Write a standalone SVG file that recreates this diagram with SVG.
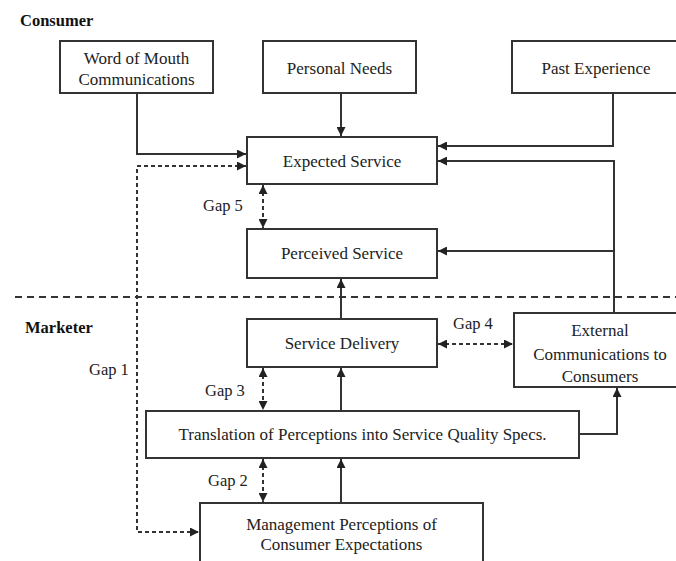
<svg xmlns="http://www.w3.org/2000/svg" width="676" height="561" viewBox="0 0 676 561">
<defs>
<marker id="ah" viewBox="0 0 10 10" refX="10" refY="5" markerWidth="9" markerHeight="9" markerUnits="userSpaceOnUse" orient="auto-start-reverse">
<path d="M0,0 L10,5 L0,10 z" fill="#222"/>
</marker>
<style>
.box{fill:#fff;stroke:#333;stroke-width:2}
.t{font-family:"Liberation Serif","Times New Roman",serif;font-size:17px;fill:#222;text-anchor:middle}
.h{font-family:"Liberation Serif","Times New Roman",serif;font-size:16.5px;font-weight:bold;fill:#111}
.g{font-family:"Liberation Serif","Times New Roman",serif;font-size:16.5px;fill:#222}
.c{fill:none;stroke:#333;stroke-width:2}
.d{fill:none;stroke:#333;stroke-width:2;stroke-dasharray:4,3}
</style>
</defs>
<rect width="676" height="561" fill="#fff"/>
<text class="h" x="20" y="26">Consumer</text>
<text class="h" x="25" y="333">Marketer</text>
<line x1="15" y1="297" x2="676" y2="297" stroke="#333" stroke-width="2" stroke-dasharray="7,5"/>
<g id="connectors">
<path class="c" d="M137,93 V154 H246" marker-end="url(#ah)"/>
<path class="d" d="M246,166 H137 V532 H199" marker-start="url(#ah)" marker-end="url(#ah)"/>
<path class="c" d="M341,93 V136" marker-end="url(#ah)"/>
<path class="c" d="M613,93 V146 H438" marker-end="url(#ah)"/>
<path class="c" d="M614,313 V161 H438" marker-end="url(#ah)"/>
<path class="c" d="M614,251 H438" marker-end="url(#ah)"/>
<path class="d" d="M263,185 V228" marker-start="url(#ah)" marker-end="url(#ah)"/>
<path class="c" d="M341,319 V279" marker-end="url(#ah)"/>
<path class="d" d="M438,344 H513" marker-start="url(#ah)" marker-end="url(#ah)"/>
<path class="d" d="M263,368 V410" marker-start="url(#ah)" marker-end="url(#ah)"/>
<path class="c" d="M341,411 V368" marker-end="url(#ah)"/>
<path class="c" d="M579,434 H617 V388" marker-end="url(#ah)"/>
<path class="d" d="M263,459 V502" marker-start="url(#ah)" marker-end="url(#ah)"/>
<path class="c" d="M341,503 V459" marker-end="url(#ah)"/>
</g>
<g id="gaps">
<text class="g" x="203" y="211">Gap 5</text>
<text class="g" x="89" y="375">Gap 1</text>
<text class="g" x="453" y="329">Gap 4</text>
<text class="g" x="205" y="396">Gap 3</text>
<text class="g" x="208" y="486">Gap 2</text>
</g>
<g id="wom"><rect class="box" x="60" y="41" width="153" height="52"/><text class="t" x="136.5" y="64">Word of Mouth</text><text class="t" x="136.5" y="85">Communications</text></g>
<g id="needs"><rect class="box" x="263" y="41" width="153" height="52"/><text class="t" x="339.5" y="74">Personal Needs</text></g>
<g id="past"><rect class="box" x="512" y="41" width="170" height="52"/><text class="t" x="596" y="74">Past Experience</text></g>
<g id="expected"><rect class="box" x="247" y="137" width="190" height="47"/><text class="t" x="342" y="167">Expected Service</text></g>
<g id="perceived"><rect class="box" x="247" y="229" width="190" height="49"/><text class="t" x="342" y="259">Perceived Service</text></g>
<g id="delivery"><rect class="box" x="247" y="319" width="190" height="48"/><text class="t" x="342" y="349">Service Delivery</text></g>
<g id="external"><rect class="box" x="514" y="313" width="172" height="74"/><text class="t" x="600" y="336">External</text><text class="t" x="600" y="360">Communications to</text><text class="t" x="600" y="382">Consumers</text></g>
<g id="translation"><rect class="box" x="146" y="411" width="433" height="47"/><text class="t" x="362.5" y="440">Translation of Perceptions into Service Quality Specs.</text></g>
<g id="management"><rect class="box" x="200" y="503" width="283" height="70"/><text class="t" x="341.5" y="530">Management Perceptions of</text><text class="t" x="341.5" y="550">Consumer Expectations</text></g>
</svg>
